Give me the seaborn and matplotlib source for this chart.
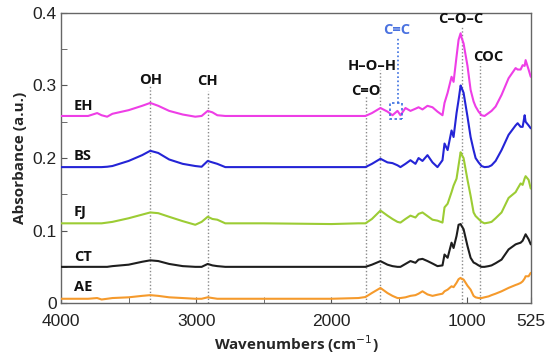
import numpy as np
import pandas as pd
import seaborn as sns
import matplotlib.pyplot as plt
from matplotlib.patches import Rectangle
from matplotlib.ticker import MultipleLocator

wavenumbers = [4000, 3800, 3733, 3700, 3659, 3620, 3500, 3400, 3340, 3281, 3200, 3100, 3007, 2960, 2915,
               2880, 2844, 2785, 2500, 2000, 1800, 1748, 1700, 1637, 1585, 1548, 1511, 1489, 1452, 1415,
               1378, 1355, 1326, 1289, 1252, 1215, 1178, 1163, 1140, 1111, 1096, 1074, 1059, 1044, 1037,
               1022, 993, 970, 948, 933, 911, 889, 867, 837, 815, 785, 741, 689, 637, 622,
               600, 585, 570, 563, 541, 525]

eh = [0.258, 0.258, 0.262, 0.259, 0.257, 0.261, 0.266, 0.272, 0.276, 0.272, 0.265, 0.260, 0.257, 0.258, 0.265,
      0.263, 0.259, 0.258, 0.258, 0.258, 0.258, 0.258, 0.262, 0.269, 0.264, 0.259, 0.265, 0.259, 0.269, 0.265,
      0.268, 0.270, 0.267, 0.272, 0.270, 0.264, 0.259, 0.276, 0.290, 0.312, 0.305, 0.340, 0.363, 0.372, 0.366,
      0.358, 0.327, 0.294, 0.278, 0.271, 0.264, 0.259, 0.258, 0.262, 0.265, 0.271, 0.287, 0.310, 0.324, 0.322,
      0.322, 0.328, 0.327, 0.335, 0.322, 0.312]
bs = [0.1875, 0.1875, 0.1875, 0.1875, 0.188, 0.189, 0.196, 0.204, 0.210, 0.207, 0.198, 0.192, 0.189, 0.188, 0.196,
      0.194, 0.192, 0.1875, 0.1875, 0.1875, 0.1875, 0.1875, 0.192, 0.199, 0.194, 0.193, 0.190, 0.1875, 0.192, 0.197,
      0.192, 0.200, 0.196, 0.204, 0.194, 0.1875, 0.197, 0.220, 0.211, 0.238, 0.229, 0.262, 0.280, 0.300, 0.297,
      0.290, 0.257, 0.229, 0.211, 0.200, 0.194, 0.189, 0.1875, 0.188, 0.190, 0.196, 0.211, 0.232, 0.245, 0.248,
      0.243, 0.243, 0.259, 0.250, 0.245, 0.241]
fj = [0.110, 0.110, 0.110, 0.110, 0.111, 0.112, 0.117, 0.122, 0.125, 0.124, 0.119, 0.113, 0.108, 0.112, 0.119,
      0.116, 0.115, 0.110, 0.110, 0.109, 0.110, 0.110, 0.116, 0.1276, 0.1206, 0.116, 0.112, 0.111, 0.116, 0.1206,
      0.118, 0.123, 0.125, 0.120, 0.115, 0.1137, 0.111, 0.132, 0.137, 0.153, 0.162, 0.1716, 0.190, 0.208, 0.205,
      0.200, 0.170, 0.148, 0.125, 0.120, 0.116, 0.112, 0.110, 0.111, 0.112, 0.117, 0.125, 0.145, 0.153, 0.158,
      0.165, 0.163, 0.172, 0.175, 0.170, 0.158]
ct = [0.050, 0.050, 0.050, 0.050, 0.050, 0.051, 0.053, 0.057, 0.059, 0.058, 0.054, 0.051, 0.050, 0.050, 0.054,
      0.052, 0.051, 0.050, 0.050, 0.050, 0.050, 0.050, 0.053, 0.0579, 0.053, 0.051, 0.050, 0.050, 0.054, 0.058,
      0.0556, 0.060, 0.061, 0.058, 0.0546, 0.051, 0.052, 0.067, 0.0625, 0.0833, 0.076, 0.0926, 0.108, 0.109, 0.1065,
      0.1019, 0.0787, 0.0625, 0.056, 0.0546, 0.052, 0.050, 0.050, 0.051, 0.052, 0.055, 0.060, 0.074, 0.081, 0.082,
      0.0833, 0.086, 0.092, 0.0949, 0.088, 0.081]
ae = [0.006, 0.006, 0.007, 0.005, 0.006, 0.007, 0.008, 0.010, 0.011, 0.010, 0.008, 0.007, 0.006, 0.006, 0.008,
      0.007, 0.006, 0.006, 0.006, 0.006, 0.007, 0.0084, 0.014, 0.0209, 0.0139, 0.010, 0.007, 0.007, 0.008, 0.010,
      0.011, 0.013, 0.0163, 0.012, 0.010, 0.0116, 0.013, 0.0163, 0.0186, 0.0232, 0.022, 0.028, 0.033, 0.0348, 0.0334,
      0.0325, 0.024, 0.0186, 0.010, 0.008, 0.007, 0.007, 0.008, 0.0093, 0.011, 0.013, 0.0163, 0.021, 0.025, 0.026,
      0.0278, 0.030, 0.034, 0.037, 0.037, 0.0417]

samples = ['EH', 'BS', 'FJ', 'CT', 'AE']
colors = ['#ee3ee6', '#2424d6', '#9ccc34', '#1e1e1e', '#f59a2c']
label_y = [0.272, 0.203, 0.126, 0.064, 0.022]

# band assignments: label, wavenumber, top of dotted line, label x, label y
bands = ['OH', 'CH', 'C=O', 'H\u2013O\u2013H', 'C\u2013O\u2013C', 'COC']
band_wn = [3340, 2915, 1745, 1640, 1035, 900]
band_top = [0.299, 0.292, 0.286, 0.321, 0.382, 0.331]
band_lx = [3340, 2915, 1745, 1700, 1040, 840]
band_ly = [0.308, 0.306, 0.292, 0.327, 0.392, 0.339]

df = pd.DataFrame({
    'wn': wavenumbers * 5,
    'abs': eh + bs + fj + ct + ae,
    'sample': np.repeat(samples, len(wavenumbers)),
})

sns.set_style('ticks')
plt.rcParams['font.family'] = ['Liberation Sans', 'DejaVu Sans']

fig = plt.figure(figsize=(5.5, 3.6), dpi=100)
ax = fig.add_axes([0.111, 0.158, 0.854, 0.806])

for wn, top in zip(band_wn, band_top):
    ax.plot([wn, wn], [0, top], ls=(0, (1, 1.5)), color='#8a8a8a', lw=1, zorder=1)

sns.lineplot(data=df, x='wn', y='abs', hue='sample', palette=dict(zip(samples, colors)),
             estimator=None, sort=False, legend=False, lw=1.5, ax=ax, zorder=3)

bold = dict(family=['Open Sans', 'DejaVu Sans'], fontweight='bold', fontsize=10.5)
for name, x, y in zip(bands, band_lx, band_ly):
    ax.text(x, y, name, ha='center', va='center', color='#111111', **bold)
for name, y in zip(samples, label_y):
    ax.text(3905, y, name, ha='left', va='center', color='#111111', **bold)

# C=C band with dashed box
ax.plot([1510, 1510], [0.276, 0.365], ls=(0, (1, 1.5)), color='#3b6fe0', lw=1.2, zorder=2)
ax.add_patch(Rectangle((1475, 0.254), 88, 0.022, fill=False, ls=(0, (1.5, 1.5)),
                       ec='#3b6fe0', lw=1.2, zorder=4))
ax.text(1519, 0.376, 'C=C', ha='center', va='center', color='#4a72e0', **bold)

ax.set_xlim(4000, 525)
ax.set_ylim(0, 0.4)
ax.set_xticks([4000, 3000, 2000, 1000, 525])
ax.set_xticklabels(['4000', '3000', '2000', '1000', '525'])
ax.xaxis.set_minor_locator(MultipleLocator(500))
ax.set_yticks([0, 0.1, 0.2, 0.3, 0.4])
ax.set_yticklabels(['0', '0.1', '0.2', '0.3', '0.4'])
ax.yaxis.set_minor_locator(MultipleLocator(0.05))
ax.tick_params(which='both', direction='in', colors='#555555', labelcolor='#222222', labelsize=12.5, length=4)
ax.tick_params(axis='x', which='major', pad=8)
ax.tick_params(axis='y', which='major', pad=3)
for s in ax.spines.values():
    s.set_visible(True)
    s.set_color('#666666')
    s.set_linewidth(1)

ax.set_xlabel('Wavenumbers (cm$^{-1}$)', fontsize=11, fontweight='bold', family=['Open Sans', 'DejaVu Sans'], labelpad=3)
ax.set_ylabel('Absorbance (a.u.)', fontsize=11, fontweight='bold', family=['Open Sans', 'DejaVu Sans'], labelpad=4)

fig.savefig('out.png', dpi=100)
